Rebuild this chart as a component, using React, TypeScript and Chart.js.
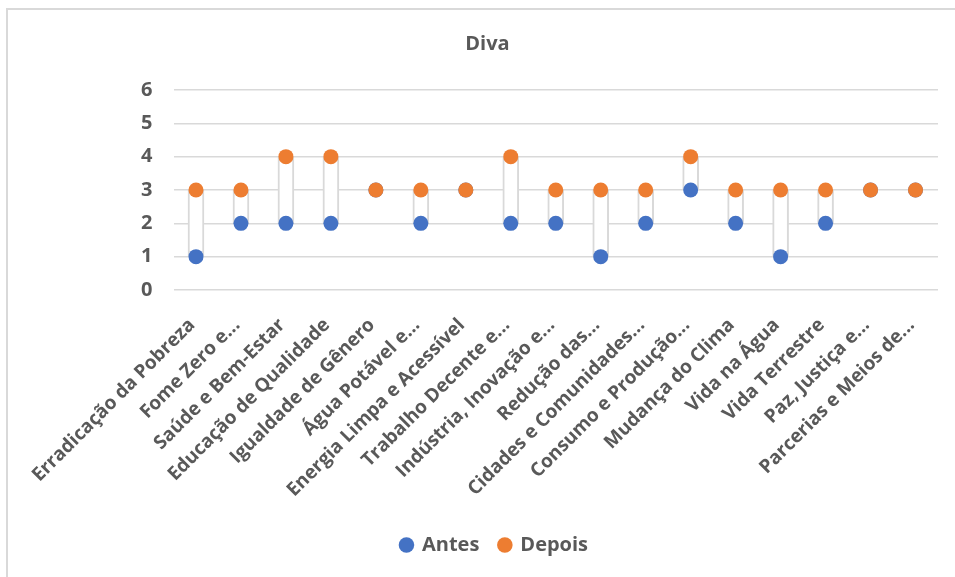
import React, { useEffect, useRef } from "react";
import { Chart, registerables } from "chart.js";

Chart.register(...registerables);

const categories = [
  "Erradicação da Pobreza",
  "Fome Zero e...",
  "Saúde e Bem-Estar",
  "Educação de Qualidade",
  "Igualdade de Gênero",
  "Água Potável e...",
  "Energia Limpa e Acessível",
  "Trabalho Decente e...",
  "Indústria, Inovação e...",
  "Redução das...",
  "Cidades e Comunidades...",
  "Consumo e Produção...",
  "Mudança do Clima",
  "Vida na Água",
  "Vida Terrestre",
  "Paz, Justiça e...",
  "Parcerias e Meios de...",
];

const antes = [1, 2, 2, 2, 3, 2, 3, 2, 2, 1, 2, 3, 2, 1, 2, 3, 3];
const depois = [3, 3, 4, 4, 3, 3, 3, 4, 3, 3, 3, 4, 3, 3, 3, 3, 3];
const yTicks = [0, 1, 2, 3, 4, 5, 6];

const title = "Diva";
const GRAY = "#595959";
const FONT = "'Open Sans'";
const PAD = 37;
const LEGEND_SHIFT = 7;

const legendShift = {
  id: "legendShift",
  afterLayout(chart: any) {
    if (chart.legend) {
      chart.legend.left += LEGEND_SHIFT;
      chart.legend.right += LEGEND_SHIFT;
    }
  },
};

export default function App() {
  const ref = useRef<HTMLCanvasElement>(null);

  useEffect(() => {
    if (!ref.current) return;
    const chart = new Chart(ref.current, {
      type: "bar",
      plugins: [legendShift],
      data: {
        labels: categories,
        datasets: [
          {
            type: "line",
            label: "Antes",
            data: antes,
            showLine: false,
            pointRadius: 7.5,
            pointHoverRadius: 7.5,
            pointBackgroundColor: "#4472C4",
            pointBorderColor: "#4472C4",
            pointBorderWidth: 0,
            backgroundColor: "#4472C4",
            borderColor: "#4472C4",
            order: 2,
          } as any,
          {
            type: "line",
            label: "Depois",
            data: depois,
            showLine: false,
            pointRadius: 7.5,
            pointHoverRadius: 7.5,
            pointBackgroundColor: "#ED7D31",
            pointBorderColor: "#ED7D31",
            pointBorderWidth: 0,
            backgroundColor: "#ED7D31",
            borderColor: "#ED7D31",
            order: 1,
          } as any,
          {
            type: "bar",
            label: "updown",
            data: antes.map((a, i) => [a, depois[i]]),
            backgroundColor: "#ffffff",
            borderColor: "#d9d9d9",
            borderWidth: 2,
            borderSkipped: false,
            barThickness: 16,
            order: 3,
          } as any,
        ],
      },
      options: {
        responsive: false,
        animation: false,
        devicePixelRatio: 1,
        layout: { padding: { left: PAD, right: PAD, top: 0, bottom: 12 } },
        plugins: {
          title: {
            display: true,
            text: title,
            color: GRAY,
            font: { family: FONT, size: 20, weight: "bold" },
            padding: { top: 32, bottom: 34 },
          },
          legend: {
            position: "bottom",
            labels: {
              usePointStyle: true,
              pointStyle: "circle",
              boxWidth: 11,
              boxHeight: 11,
              color: GRAY,
              font: { family: FONT, size: 20, weight: "bold" },
              padding: 20,
              filter: (item: any) => item.text !== "updown",
              sort: (a: any, b: any) => a.datasetIndex - b.datasetIndex,
            },
          },
          tooltip: { enabled: false },
        },
        scales: {
          x: {
            grid: { display: false, drawTicks: false },
            border: { display: false },
            ticks: {
              color: GRAY,
              font: { family: FONT, size: 19, weight: "bold" },
              minRotation: 45,
              maxRotation: 45,
              autoSkip: false,
              padding: 24,
              labelOffset: -4,
            },
            afterFit: (scale: any) => {
              const c = scale.chart;
              const lh = c.legend ? c.legend.height : 0;
              scale.height = c.height - 12 - lh - 290;
            },
          },
          y: {
            min: 0,
            max: 6,
            afterBuildTicks: (scale: any) => {
              scale.ticks = yTicks.map((v) => ({ value: v }));
            },
            grid: { color: "#d9d9d9", lineWidth: 1.5, drawTicks: false },
            border: { display: false },
            ticks: {
              color: GRAY,
              font: { family: FONT, size: 20, weight: "bold" },
              padding: 21,
            },
            afterFit: (scale: any) => {
              scale.width = 173.5 - PAD;
            },
          },
        },
      },
    });
    return () => chart.destroy();
  }, []);

  return (
    <div
      style={{
        position: "fixed",
        left: 0,
        top: 0,
        width: 955,
        height: 577,
        overflow: "hidden",
        background: "#ffffff",
      }}
    >
      <div
        style={{
          position: "absolute",
          left: 6,
          top: 8,
          width: 963,
          height: 590,
          border: "2px solid #d9d9d9",
          boxSizing: "border-box",
        }}
      />
      <canvas
        ref={ref}
        width={975}
        height={577}
        style={{ position: "absolute", left: 0, top: 0 }}
      />
    </div>
  );
}
